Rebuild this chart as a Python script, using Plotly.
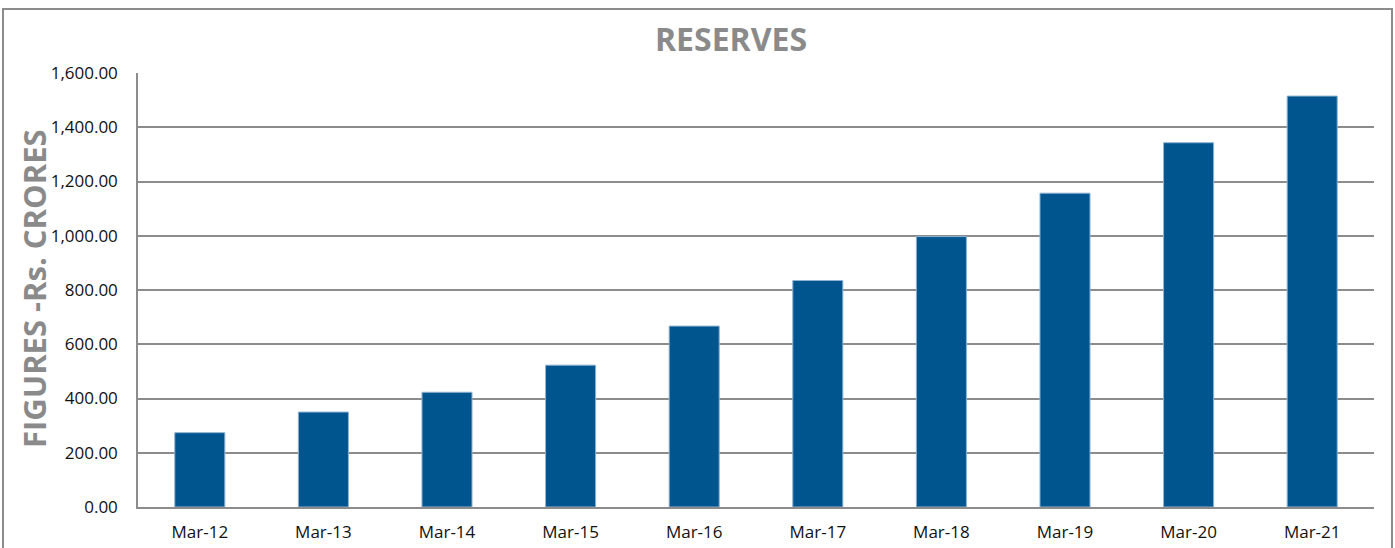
import plotly.graph_objects as go

categories = ["Mar-12", "Mar-13", "Mar-14", "Mar-15", "Mar-16",
              "Mar-17", "Mar-18", "Mar-19", "Mar-20", "Mar-21"]
reserves = [274, 350, 423, 523, 667, 835, 997, 1157, 1343, 1515]
y_ticks = [0, 200, 400, 600, 800, 1000, 1200, 1400, 1600]

W, H = 1395, 548
L, R, T, B = 138, 21, 73, 41
pw, ph = W - L - R, H - T - B

fig = go.Figure()
fig.add_trace(go.Bar(
    x=categories, y=reserves,
    marker=dict(color="#00558F", line=dict(color="#8fb3d3", width=1)),
    width=0.405,
    hoverinfo="x+y",
))

grid_col = "#8c8c8c"
fig.update_layout(
    width=W, height=H,
    margin=dict(l=L, r=R, t=T, b=B, autoexpand=False),
    paper_bgcolor="white", plot_bgcolor="white",
    showlegend=False,
    font=dict(family="Open Sans, Noto Sans, sans-serif", color="#111111", size=17),
    title=dict(text="<b>RESERVES</b>", x=731 / W, xanchor="center",
               y=1 - 40 / H, yanchor="middle", yref="container",
               font=dict(family="Open Sans, sans-serif", size=32, color="#8a8a8a")),
    xaxis=dict(showgrid=False, showline=True, linecolor=grid_col, linewidth=1.5,
               ticks="", tickfont=dict(size=17, color="#111111"),
               ticklabelstandoff=9, automargin=False),
    yaxis=dict(range=[0, 1600], tickvals=y_ticks, tickformat=",.2f",
               showgrid=True, gridcolor=grid_col, gridwidth=1.5,
               showline=True, linecolor=grid_col, linewidth=1.5,
               zeroline=False, ticks="", tickfont=dict(size=17, color="#111111"),
               ticklabelstandoff=15, automargin=False),
)

fig.add_annotation(
    text="<b>FIGURES -Rs. CRORES</b>", textangle=-90,
    xref="paper", yref="paper", x=0, y=0.5,
    xanchor="center", yanchor="middle", xshift=-(L - 34), yshift=1,
    showarrow=False,
    font=dict(family="Open Sans, sans-serif", size=31, color="#8a8a8a"),
)

# outer chart border
fig.add_shape(type="rect", xref="paper", yref="paper",
              x0=(3 - L) / pw, x1=(1392 - L) / pw,
              y0=-0.3, y1=(H - B - 9) / ph,
              line=dict(color="#8c8c8c", width=2), fillcolor="rgba(0,0,0,0)",
              layer="below")

fig.write_html("out.html", config={"displayModeBar": False},
               post_script="document.body.style.margin='0';document.body.style.overflow='hidden';")
